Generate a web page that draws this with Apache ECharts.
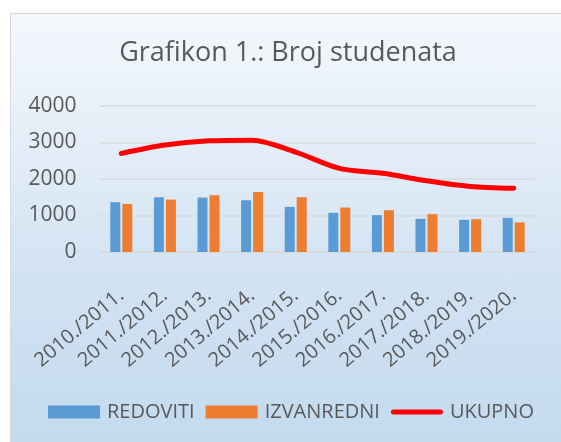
<!DOCTYPE html>
<html>
<head>
<meta charset="utf-8">
<script src="https://cdn.jsdelivr.net/npm/echarts@6/dist/echarts.min.js"></script>
<style>
  html, body { margin: 0; padding: 0; background: #ffffff; }
  #box {
    position: absolute; left: 10px; top: 13px; width: 551px; height: 429px;
    border-left: 1px solid #d9d9d9; border-top: 1px solid #d9d9d9;
    background: linear-gradient(to bottom, #f4f8fc 0%, #d3e3f3 60%, #c3daee 100%);
  }
  #chart { position: absolute; left: 0; top: 0; width: 561px; height: 442px; }
</style>
</head>
<body>
<div id="box"></div>
<div id="chart"></div>
<script>
const categories = ['2010./2011.', '2011./2012.', '2012./2013.', '2013./2014.', '2014./2015.',
  '2015./2016.', '2016./2017.', '2017./2018.', '2018./2019.', '2019./2020.'];
const redoviti = [1364, 1500, 1491, 1418, 1236, 1073, 1009, 909, 882, 936];
const izvanredni = [1318, 1436, 1555, 1645, 1500, 1218, 1145, 1036, 900, 809];
const ukupno = [2700, 2930, 3045, 3064, 2736, 2291, 2155, 1950, 1795, 1745];
const yTicks = [0, 1000, 2000, 3000, 4000];

const font = 'Open Sans';
const textColor = '#595959';

const chart = echarts.init(document.getElementById('chart'));

const option = {
  backgroundColor: 'transparent',
  animation: false,
  title: {
    text: 'Grafikon 1.: Broj studenata',
    left: 288, top: 40, textAlign: 'center', padding: 0,
    textStyle: { fontFamily: font, fontSize: 27, fontWeight: 'normal', color: textColor }
  },
  legend: {
    left: 48, top: 402, padding: 0,
    itemWidth: 52, itemHeight: 13, itemGap: 11,
    textStyle: { fontFamily: font, fontSize: 20, color: textColor, padding: [0, 0, 0, 2] },
    data: [
      { name: 'REDOVITI', icon: 'rect' },
      { name: 'IZVANREDNI', icon: 'rect' },
      {
        name: 'UKUPNO',
        icon: 'path://M2.5,0 H49.5 A2.5,2.5 0 0 1 49.5,5 H2.5 A2.5,2.5 0 0 1 2.5,0 Z',
        itemStyle: { color: '#ff0000' }
      }
    ]
  },
  grid: { left: 99.5, right: 25.5, top: 106, bottom: 190 },
  xAxis: {
    type: 'category',
    data: categories,
    axisLine: { lineStyle: { color: '#d9d9d9' } },
    axisTick: { show: false },
    axisLabel: {
      rotate: 40, margin: 41, interval: 0,
      fontFamily: font, fontSize: 20, color: textColor
    }
  },
  yAxis: {
    type: 'value',
    min: yTicks[0], max: yTicks[yTicks.length - 1], interval: 1000,
    axisLine: { show: false },
    axisTick: { show: false },
    splitLine: { lineStyle: { color: '#d6dbe0', width: 1.5 } },
    axisLabel: {
      margin: 23, fontFamily: font, fontSize: 21, color: textColor,
      formatter: v => String(v)
    }
  },
  series: [
    {
      name: 'REDOVITI', type: 'bar', data: redoviti,
      barWidth: 10, barGap: '20%',
      itemStyle: { color: '#5b9bd5' }
    },
    {
      name: 'IZVANREDNI', type: 'bar', data: izvanredni,
      barWidth: 10,
      itemStyle: { color: '#ed7d31' }
    },
    {
      name: 'UKUPNO', type: 'line', data: ukupno,
      smooth: 0.3, symbol: 'none',
      lineStyle: { color: '#ff0000', width: 5, cap: 'round' },
      itemStyle: { color: '#ff0000' }
    }
  ]
};

chart.setOption(option);
</script>
</body>
</html>
